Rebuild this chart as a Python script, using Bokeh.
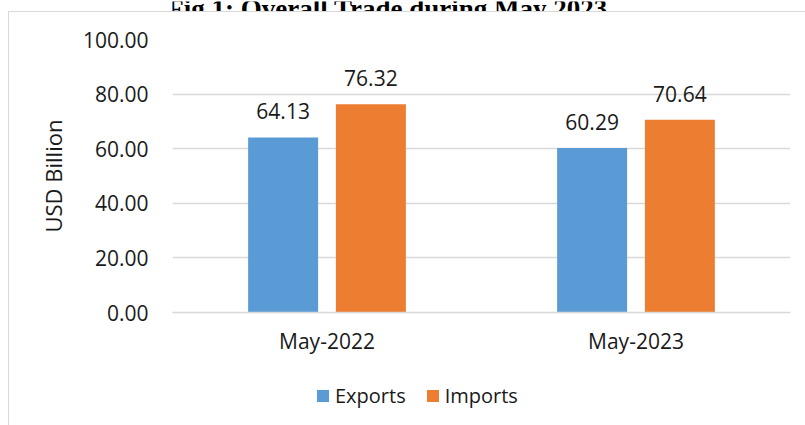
from bokeh.plotting import figure
from bokeh.layouts import column
from bokeh.models import (FactorRange, Range1d, ColumnDataSource, LabelSet, Legend, LegendItem,
                          NumeralTickFormatter, FixedTicker, Label)
from bokeh.core.properties import value
from bokeh.transform import dodge
from bokeh.embed import file_html
from bokeh.resources import INLINE

title_text = "Fig 1: Overall Trade during May 2023"
months = ["May-2022", "May-2023"]
exports = [64.13, 60.29]
imports = [76.32, 70.64]
series_names = ["Exports", "Imports"]
y_ticks = [0, 20, 40, 60, 80, 100]

BLUE = "#5B9BD5"
ORANGE = "#ED7D31"
GRID = "#d9d9d9"
TXT = "#1a1a1a"
FONT = "Open Sans"

src = ColumnDataSource(data=dict(
    month=months, exports=exports, imports=imports,
    exp_lbl=[f"{v:.2f}" for v in exports],
    imp_lbl=[f"{v:.2f}" for v in imports],
))

off = 0.142
w = 0.2265


def frame_bg(top_line):
    parts = [f"linear-gradient({GRID},{GRID}) 8px 0px / 1px 100% no-repeat"]
    if top_line:
        parts.append(f"linear-gradient({GRID},{GRID}) 8px 0px / 100% 1px no-repeat")
    parts.append("white")
    return {"background": ", ".join(parts)}


# ---- title strip (title partly above the visible page, as in the reference) ----
pt = figure(width=805, height=11, output_backend="svg", toolbar_location=None,
            x_axis_location=None, y_axis_location=None, min_border=0)
pt.outline_line_color = None
pt.grid.grid_line_color = None
pt.border_fill_alpha = 0
pt.background_fill_alpha = 0
pt.styles = {"background": "white"}
pt.add_layout(Label(x=215, y=4, x_units="screen", y_units="screen", text=title_text,
                    text_font="Liberation Serif", text_font_style="bold", text_font_size="27px",
                    text_align="center", text_baseline="alphabetic", text_color="#000000"))

# ---- main chart ----
p = figure(width=805, height=349, output_backend="svg", toolbar_location=None,
           x_range=FactorRange(factors=months, range_padding=0),
           y_range=Range1d(0, 100),
           min_border_left=172, min_border_right=15, min_border_top=28, min_border_bottom=48)
p.outline_line_color = None
p.background_fill_color = "white"
p.border_fill_alpha = 0
p.styles = frame_bg(True)

r1 = p.vbar(x=dodge("month", -off, range=p.x_range), top="exports", width=w, source=src,
            fill_color=BLUE, line_color=None)
r2 = p.vbar(x=dodge("month", off, range=p.x_range), top="imports", width=w, source=src,
            fill_color=ORANGE, line_color=None)

for col, lbl, o in (("exports", "exp_lbl", -off), ("imports", "imp_lbl", off)):
    p.add_layout(LabelSet(x=dodge("month", o, range=p.x_range), y=col, text=lbl, source=src,
                          text_align="center", text_baseline="alphabetic", y_offset=18,
                          text_font=value(FONT), text_font_size="21px", text_color=TXT))

p.yaxis.ticker = FixedTicker(ticks=y_ticks)
p.yaxis.formatter = NumeralTickFormatter(format="0.00")
p.yaxis.axis_line_color = None
p.yaxis.major_tick_line_color = None
p.yaxis.minor_tick_line_color = None
p.yaxis.major_tick_out = 0
p.yaxis.major_tick_in = 0
p.yaxis.major_label_standoff = 24
p.yaxis.major_label_text_font = FONT
p.yaxis.major_label_text_font_size = "21px"
p.yaxis.major_label_text_color = TXT
p.yaxis.axis_label = "USD Billion"
p.yaxis.axis_label_text_font = FONT
p.yaxis.axis_label_text_font_size = "22px"
p.yaxis.axis_label_text_font_style = "normal"
p.yaxis.axis_label_text_color = TXT
p.yaxis.axis_label_standoff = 12

p.xaxis.axis_line_color = GRID
p.xaxis.axis_line_width = 1.5
p.xaxis.major_tick_line_color = None
p.xaxis.minor_tick_line_color = None
p.xaxis.major_tick_out = 0
p.xaxis.major_tick_in = 0
p.xaxis.major_label_standoff = 14
p.xaxis.major_label_text_font = FONT
p.xaxis.major_label_text_font_size = "21px"
p.xaxis.major_label_text_color = TXT

p.xgrid.grid_line_color = None
p.ygrid.grid_line_color = GRID
p.ygrid.grid_line_width = 1.5

# ---- legend strip ----
pl = figure(width=805, height=65, output_backend="svg", toolbar_location=None,
            x_range=FactorRange(factors=months), y_range=Range1d(1000, 1001),
            x_axis_location=None, y_axis_location=None, min_border=0)
pl.outline_line_color = None
pl.grid.grid_line_color = None
pl.border_fill_alpha = 0
pl.background_fill_alpha = 0
pl.styles = frame_bg(False)
l1 = pl.vbar(x="month", top="exports", width=w, source=src, fill_color=BLUE, line_color=None)
l2 = pl.vbar(x="month", top="imports", width=w, source=src, fill_color=ORANGE, line_color=None)
legend = Legend(items=[LegendItem(label=series_names[0], renderers=[l1]),
                       LegendItem(label=series_names[1], renderers=[l2])],
                location=(143, 16), orientation="horizontal",
                glyph_width=15, glyph_height=15, label_standoff=5, spacing=19,
                padding=0, margin=0, border_line_color=None, background_fill_alpha=0,
                label_text_font=FONT, label_text_font_size="20px", label_text_color=TXT,
                label_height=20)
pl.add_layout(legend)

layout = column(pt, p, pl, spacing=0)
open("out.html", "w").write(file_html(layout, INLINE))
